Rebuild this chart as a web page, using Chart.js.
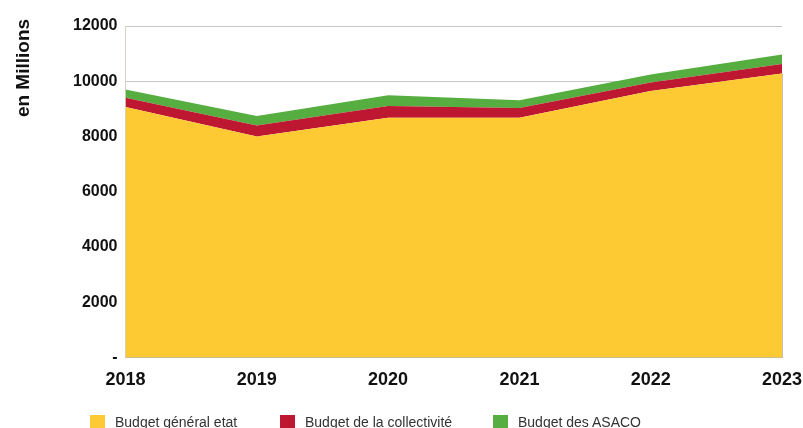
<!DOCTYPE html>
<html lang="fr">
<head>
  <meta charset="UTF-8">
  <title>Budget par source de financement</title>
  <script src="https://cdn.jsdelivr.net/npm/chart.js"></script>
  <style>
    body {
      margin: 0;
      background: #fff;
      font-family: "Liberation Sans", Arial, sans-serif;
    }
    .wrap {
      position: relative;
      width: 803px;
      height: 428px;
      overflow: hidden;
    }
    canvas {
      display: block;
    }
    .legend-item {
      position: absolute;
      top: 414px;
      display: flex;
      align-items: center;
      font-size: 14px;
      color: #333;
      white-space: nowrap;
    }
    .legend-color {
      width: 15px;
      height: 15px;
      margin-right: 10px;
    }
  </style>
</head>
<body>

  <div class="wrap">
    <canvas id="budgetChart" width="803" height="428"></canvas>
    <div class="legend-item" style="left: 90px;">
      <div class="legend-color" style="background-color: rgb(253, 202, 52);"></div>
      <span>Budget général etat</span>
    </div>
    <div class="legend-item" style="left: 280px;">
      <div class="legend-color" style="background-color: rgb(190, 23, 50);"></div>
      <span>Budget de la collectivité</span>
    </div>
    <div class="legend-item" style="left: 493px;">
      <div class="legend-color" style="background-color: rgb(86, 174, 64);"></div>
      <span>Budget des ASACO</span>
    </div>
  </div>

  <script>
    const years = ['2018', '2019', '2020', '2021', '2022', '2023'];
    const budgetEtat = [9070, 8000, 8680, 8680, 9650, 10280];
    const budgetCollectivite = [330, 400, 420, 350, 300, 340];
    const budgetAsaco = [300, 340, 390, 280, 290, 350];
    const yTicks = [0, 2000, 4000, 6000, 8000, 10000, 12000];

    // rotated axis caption, top-left of the chart
    const yCaption = {
      id: 'yCaption',
      afterDraw(chart) {
        const ctx = chart.ctx;
        ctx.save();
        ctx.translate(28.5, 68);
        ctx.rotate(-Math.PI / 2);
        ctx.font = 'bold 19px "Liberation Sans", Arial, sans-serif';
        ctx.fillStyle = '#111';
        ctx.textAlign = 'center';
        ctx.textBaseline = 'alphabetic';
        ctx.fillText('en Millions', 0, 0);
        ctx.restore();
      }
    };

    // thin frame line on the right side of the plot
    const rightEdge = {
      id: 'rightEdge',
      afterDatasetsDraw(chart) {
        const { ctx, chartArea } = chart;
        ctx.save();
        ctx.strokeStyle = '#c8c0b0';
        ctx.lineWidth = 1;
        ctx.beginPath();
        ctx.moveTo(chartArea.right + 0.5, chart.scales.y.getPixelForValue(budgetEtat[5]));
        ctx.lineTo(chartArea.right + 0.5, chartArea.bottom);
        ctx.stroke();
        ctx.restore();
      }
    };

    const areaSet = (label, data, color, fill) => ({
      label: label,
      data: data,
      backgroundColor: color,
      borderColor: color,
      borderWidth: 0,
      pointRadius: 0,
      tension: 0,
      fill: fill
    });

    const ctx = document.getElementById('budgetChart').getContext('2d');
    new Chart(ctx, {
      type: 'line',
      data: {
        labels: years,
        datasets: [
          areaSet('Budget général etat', budgetEtat, 'rgb(253, 202, 52)', 'origin'),
          areaSet('Budget de la collectivité', budgetCollectivite, 'rgb(190, 23, 50)', '-1'),
          areaSet('Budget des ASACO', budgetAsaco, 'rgb(86, 174, 64)', '-1')
        ]
      },
      options: {
        responsive: false,
        animation: false,
        layout: { padding: { left: 65, right: 0, top: 26, bottom: 25 } },
        plugins: {
          legend: { display: false },
          tooltip: { enabled: false }
        },
        scales: {
          x: {
            offset: false,
            grid: { display: false, drawTicks: false },
            border: { display: true, color: '#c8b89a', width: 1 },
            afterFit: axis => { axis.paddingLeft = 0; axis.paddingRight = 21; },
            ticks: {
              padding: 12,
              color: '#111',
              font: { family: '"Liberation Sans", Arial, sans-serif', size: 18, weight: 'bold' },
              maxRotation: 0
            }
          },
          y: {
            stacked: true,
            min: 0,
            max: 12000,
            afterBuildTicks: axis => { axis.ticks = yTicks.map(v => ({ value: v })); },
            grid: { color: '#c8c8c8', drawTicks: false },
            border: { display: true, color: '#d8d0c0' },
            ticks: {
              padding: 8,
              color: '#111',
              font: { family: '"Liberation Sans", Arial, sans-serif', size: 16, weight: 'bold' },
              callback: v => v === 0 ? '-' : String(v)
            }
          }
        }
      },
      plugins: [yCaption, rightEdge]
    });
  </script>

</body>
</html>
